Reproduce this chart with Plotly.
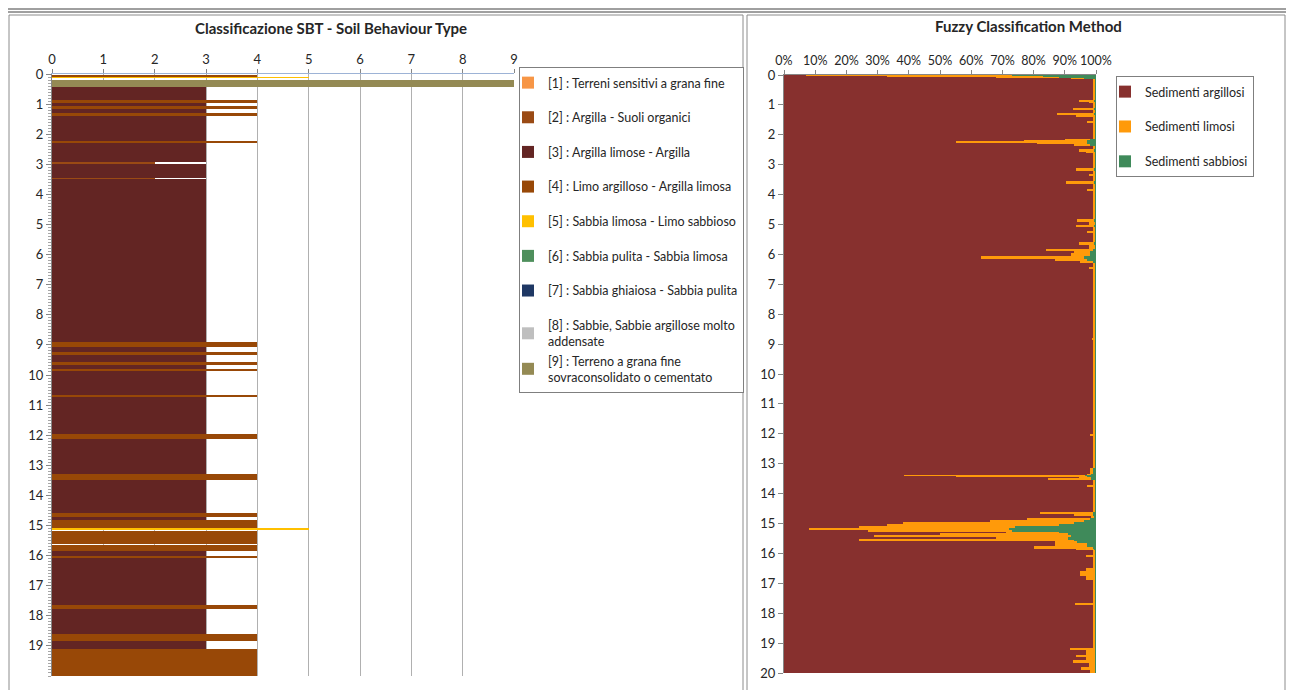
import plotly.graph_objects as go

# page body has an 8px margin, so the figure is a bit smaller than the window
PAD = 8
W, H = 1294 - 2 * PAD, 690 - PAD

# SBT layers: top / bottom depth (m) and class
SBT_TOP = [0.06, 0.11, 0.19, 0.43, 0.86, 0.95, 1.05, 1.16, 1.29, 1.40,
           2.24, 2.30, 2.92, 3.00, 3.46, 3.50, 8.91, 9.06, 9.24, 9.35,
           9.57, 9.66, 9.83, 9.87, 10.65, 10.72, 11.95, 12.12, 13.30, 13.49,
           14.58, 14.71, 14.82, 15.09, 15.17, 15.66, 15.85, 16.03, 16.07, 17.63,
           17.77, 18.59, 18.84, 19.10]
SBT_BOTTOM = [0.11, 0.125, 0.43, 0.86, 0.95, 1.05, 1.16, 1.29, 1.40, 2.24,
              2.30, 2.92, 3.00, 3.46, 3.50, 8.91, 9.06, 9.24, 9.35, 9.57,
              9.66, 9.83, 9.87, 10.65, 10.72, 11.95, 12.12, 13.30, 13.49, 14.58,
              14.71, 14.82, 15.09, 15.16, 15.62, 15.85, 16.03, 16.07, 17.63, 17.77,
              18.59, 18.84, 19.10, 20.00]
SBT_CLASS = [4, 5, 9, 3, 4, 3, 4, 3, 4, 3,
             4, 3, 2, 3, 2, 3, 4, 3, 4, 3,
             4, 3, 4, 3, 4, 3, 4, 3, 4, 3,
             4, 3, 4, 5, 4, 4, 3, 4, 3, 4,
             3, 4, 3, 4]

SBT_NAMES = [
    "[1] : Terreni sensitivi a grana fine",
    "[2] : Argilla - Suoli organici",
    "[3] : Argilla limose - Argilla",
    "[4] : Limo argilloso - Argilla limosa",
    "[5] : Sabbia limosa - Limo sabbioso",
    "[6] : Sabbia pulita - Sabbia limosa",
    "[7] : Sabbia ghiaiosa - Sabbia pulita",
    "[8] : Sabbie, Sabbie argillose molto<br>addensate",
    "[9] : Terreno a grana fine<br>sovraconsolidato o cementato",
]
SBT_COLORS = ["#F79646", "#9A4A14", "#632523", "#984807", "#FFC000",
              "#4E8F5C", "#1F3864", "#BFBFBF", "#948A54"]

# Fuzzy classification: top depth of each row, % limosi, % sabbiosi (rest = argillosi)
FUZZY_TOP = [0.00, 0.03, 0.06, 0.09, 0.12, 0.85, 0.90, 0.95, 1.10, 1.17,
             1.28, 1.34, 1.40, 1.55, 1.60, 2.15, 2.20, 2.24, 2.27, 2.31,
             2.36, 2.50, 2.56, 2.62, 3.10, 3.20, 3.33, 3.38, 3.56, 3.66,
             3.82, 3.88, 4.80, 4.90, 5.03, 5.10, 5.22, 5.27, 5.60, 5.70,
             5.83, 5.88, 5.96, 6.08, 6.14, 6.22, 6.30, 6.42, 6.50, 8.80,
             8.86, 12.00, 12.08, 13.15, 13.35, 13.38, 13.41, 13.45, 13.49, 13.54,
             13.70, 13.78, 14.62, 14.67, 14.75, 14.84, 14.90, 14.96, 15.03, 15.10,
             15.16, 15.22, 15.27, 15.33, 15.38, 15.46, 15.54, 15.60, 15.66, 15.78,
             15.84, 15.90, 16.05, 16.12, 16.50, 16.60, 16.75, 16.88, 17.65, 17.74,
             19.15, 19.22, 19.40, 19.48, 19.58, 19.66, 19.80, 19.90]
FUZZY_END = 20.0
FUZZY_LIMO = [66, 50, 20, 4, 0.6, 5, 2, 0.6, 7, 0.6,
              12, 6, 0.6, 2.5, 0.6, 8, 20, 42, 16, 5,
              0.6, 5, 3, 0.6, 6, 0.6, 2, 0.6, 9, 0.6,
              2.5, 0.6, 5.5, 2, 6, 0.6, 2.5, 0.6, 5, 2,
              15, 5, 6, 33, 10, 4, 0.6, 2, 0.6, 1,
              0.6, 1.5, 0.6, 1, 1.5, 58, 42, 4, 14, 0.6,
              2.5, 0.6, 17, 6, 1, 20, 30, 55, 55, 50,
              64, 46, 17, 41, 63, 23, 69, 7, 10, 19,
              6, 0.6, 3, 0.6, 3, 5, 3, 0.6, 6.5, 0.6,
              8, 3, 6, 3, 7, 2, 4.5, 1.5]
FUZZY_SABBIA = [27, 17, 12, 4, 0.2, 0.5, 0.3, 0.2, 0.5, 0.2,
                0.5, 0.3, 0.2, 0.3, 0.2, 2, 3, 3, 3, 2,
                0.2, 0.5, 0.3, 0.2, 0.5, 0.2, 0.3, 0.2, 0.5, 0.2,
                0.3, 0.2, 0.5, 0.3, 0.5, 0.2, 0.3, 0.2, 0.5, 0.3,
                1, 2, 2, 4, 3, 1, 0.2, 0.3, 0.2, 0.2,
                0.2, 0.3, 0.2, 1, 1.5, 3.5, 3, 1.5, 1.5, 0.2,
                0.3, 0.2, 1, 1, 0.5, 2, 4, 7, 12, 26,
                28, 27, 12, 9, 8, 9, 7, 6, 3, 1,
                0.5, 0.2, 0.3, 0.2, 0.2, 0.2, 0.2, 0.2, 0.3, 0.2,
                0.3, 0.3, 0.3, 0.3, 0.3, 0.3, 0.3, 0.3]
FUZZY_NAMES = ["Sedimenti argillosi", "Sedimenti limosi", "Sedimenti sabbiosi"]
FUZZY_COLORS = ["#87302E", "#FF9A0A", "#3F8A5A"]

FONT = "Lato"
TXT = "#262626"


def px_x(p):
    # screen pixel -> paper
    return (p - PAD) / W


def px_y(p):
    return 1 - (p - PAD) / H


fig = go.Figure()

# left chart: one bar trace per SBT class
for k in range(9):
    cls = k + 1
    idx = [i for i, c in enumerate(SBT_CLASS) if c == cls]
    xs = [SBT_CLASS[i] for i in idx]
    ys = [(SBT_TOP[i] + SBT_BOTTOM[i]) / 2 for i in idx]
    ws = [SBT_BOTTOM[i] - SBT_TOP[i] for i in idx]
    if not idx:
        xs, ys, ws = [None], [None], None
    grp = 'g8' if cls in (8, 9) else f'g{cls}'
    fig.add_trace(go.Bar(x=xs, y=ys, width=ws, base=0, orientation='h',
                         name=SBT_NAMES[k], legendgroup=grp,
                         marker=dict(color=SBT_COLORS[k], line=dict(width=0)),
                         xaxis='x', yaxis='y', legend='legend'))

# right chart: 100% stacked bars
bottoms = FUZZY_TOP[1:] + [FUZZY_END]
mids = [(t + b) / 2 for t, b in zip(FUZZY_TOP, bottoms)]
widths = [b - t for t, b in zip(FUZZY_TOP, bottoms)]
argilla = [100 - l - s for l, s in zip(FUZZY_LIMO, FUZZY_SABBIA)]
series = [argilla, FUZZY_LIMO, FUZZY_SABBIA]
base = [0] * len(mids)
for k, vals in enumerate(series):
    fig.add_trace(go.Bar(x=vals, y=mids, width=widths, base=base, orientation='h',
                         name=FUZZY_NAMES[k], legendgroup=f'f{k}',
                         marker=dict(color=FUZZY_COLORS[k], line=dict(width=0)),
                         xaxis='x2', yaxis='y2', legend='legend2'))
    base = [b + v for b, v in zip(base, vals)]

tickfont = dict(family=FONT, size=13, color=TXT)

fig.update_layout(
    width=W, height=H, margin=dict(l=0, r=0, t=0, b=0, autoexpand=False),
    paper_bgcolor='white', plot_bgcolor='white',
    barmode='overlay', bargap=0,
    font=dict(family=FONT, size=12, color=TXT),
    xaxis=dict(domain=[px_x(52), px_x(514)], range=[0, 9], side='top', anchor='y',
               dtick=1, tick0=0, showgrid=True, gridcolor='#B0B0B0', gridwidth=1,
               ticks='outside', ticklen=4, tickcolor='#868686', tickangle=0,
               showline=True, linecolor='#9DB3D6', zeroline=False, tickfont=tickfont),
    yaxis=dict(domain=[px_y(676), px_y(74)], range=[20, 0], anchor='x',
               tickvals=list(range(20)), ticks='outside', ticklen=5, tickcolor='#868686',
               minor=dict(dtick=0.1, ticks='outside', ticklen=3, tickcolor='#A6A6A6'),
               showline=True, linecolor='#868686', showgrid=False, zeroline=False,
               tickfont=tickfont),
    xaxis2=dict(domain=[px_x(784), px_x(1096)], range=[0, 100], side='top', anchor='y2',
                dtick=10, tick0=0, ticksuffix='%', showgrid=False, tickangle=0,
                ticks='outside', ticklen=4, tickcolor='#868686',
                showline=True, linecolor='#868686', zeroline=False,
                tickfont=dict(family=FONT, size=12.5, color=TXT)),
    yaxis2=dict(domain=[px_y(673), px_y(75)], range=[20, 0], anchor='x2',
                dtick=1, tick0=0, ticks='outside', ticklen=5, tickcolor='#868686',
                showline=True, linecolor='#868686', showgrid=False, zeroline=False,
                tickfont=tickfont),
    legend=dict(x=px_x(519), y=px_y(67), xanchor='left', yanchor='top',
                bgcolor='white', bordercolor='#7F7F7F', borderwidth=1,
                tracegroupgap=15.4, indentation=-12, traceorder='grouped',
                font=dict(family=FONT, size=12.5, color=TXT)),
    legend2=dict(x=px_x(1116), y=px_y(76), xanchor='left', yanchor='top',
                 bgcolor='white', bordercolor='#7F7F7F', borderwidth=1,
                 tracegroupgap=15.6, indentation=-12, traceorder='grouped',
                 font=dict(family=FONT, size=12.5, color=TXT)),
    showlegend=True,
)

# titles
fig.add_annotation(text="<b>Classificazione SBT - Soil Behaviour Type</b>",
                   x=px_x(331), y=px_y(28), xref='paper', yref='paper',
                   xanchor='center', yanchor='middle',
                   showarrow=False, font=dict(family=FONT, size=15, color=TXT))
fig.add_annotation(text="<b>Fuzzy Classification Method</b>",
                   x=px_x(1028), y=px_y(26), xref='paper', yref='paper',
                   xanchor='center', yanchor='middle',
                   showarrow=False, font=dict(family=FONT, size=15, color=TXT))

# sheet frame: rule on top and the two chart boxes
for yy in (9, 12):
    fig.add_shape(type='line', xref='paper', yref='paper', x0=0, x1=1,
                  y0=px_y(yy), y1=px_y(yy), line=dict(color='#404040', width=1))
fig.add_shape(type='rect', xref='paper', yref='paper', x0=px_x(9), x1=px_x(743),
              y0=px_y(700), y1=px_y(15), line=dict(color='#8C8C8C', width=1))
fig.add_shape(type='rect', xref='paper', yref='paper', x0=px_x(747), x1=px_x(1285),
              y0=px_y(700), y1=px_y(15), line=dict(color='#8C8C8C', width=1))

fig.write_html("out.html")
